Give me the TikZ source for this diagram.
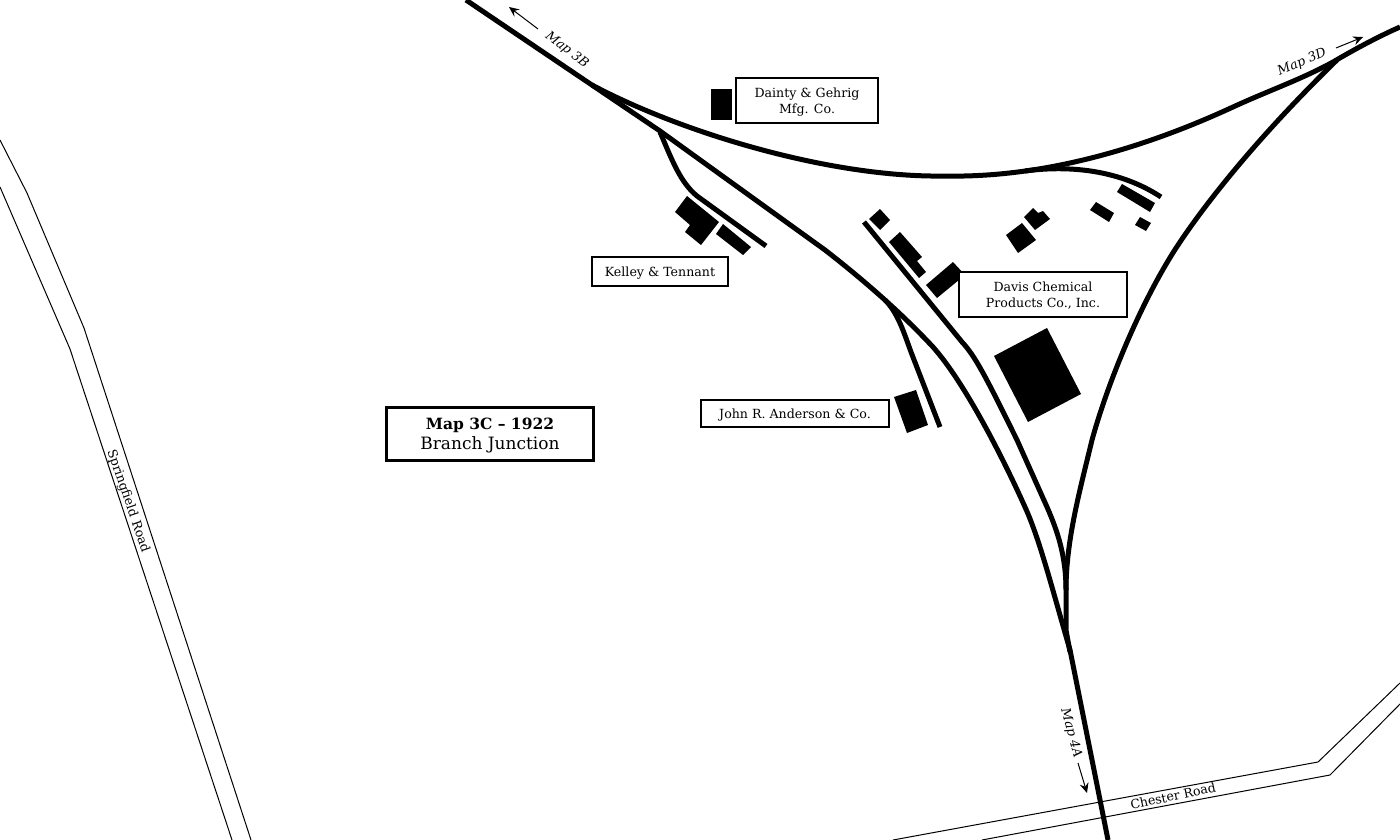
\documentclass[tikz,border=0pt]{standalone}
\usepackage{fontspec}
\setmainfont{DejaVu Serif}
\usetikzlibrary{arrows.meta}
\tikzset{
    rail/.style={line width=5pt, line join=round},
    road/.style={line width=1pt, line join=miter},
    bldg/.style={fill=black, draw=none},
    namebox/.style={draw, line width=1.8pt, fill=white, align=center, inner sep=0pt, font=\fontsize{12.6}{16}\selectfont, text depth=-1pt},
    maplabel/.style={font=\fontsize{12.8}{14}\selectfont\itshape},
    roadlabel/.style={font=\fontsize{12.6}{14}\selectfont},
    mapdir/.style={-{Stealth[length=10pt,width=9pt,inset=3.5pt]}, line width=1pt}
}
\begin{document}
\begin{tikzpicture}[x=1pt, y=-1pt]
    \useasboundingbox (0,0) rectangle (1400,840);
    \fill[white] (0,0) rectangle (1400,840);
    % roads
    \draw[road] (0,140) -- (27,193) -- (84,328) -- (251,840);
    \draw[road] (0,187) -- (70,349) -- (232,840);
    \draw[road] (893,840) -- (1318,762) -- (1400,683);
    \draw[road] (982,840) -- (1330,775) -- (1400,704);
    \node[roadlabel, rotate=-71] at (128,501) {Springfield Road};
    \node[roadlabel, rotate=12] at (1173,796) {Chester Road};
    % main line
    \draw[rail] (466,0) -- (660,131) -- (825,250) .. controls (870,285) and (905,317) .. (933,347)
        .. controls (965,383) and (1003,458) .. (1025,507) .. controls (1040,540) and (1053,592) .. (1070,650) -- (1108,840);
    % top curve
    \draw[rail] (592,85) .. controls (680,132) and (830,178) .. (945,176) .. controls (1040,178) and (1140,150) .. (1233,107)
        .. controls (1270,90) and (1300,80) .. (1333,62) .. controls (1350,52) and (1375,38) .. (1400,27);
    % 3D branch
    \draw[rail] (1337,60) .. controls (1270,125) and (1215,190) .. (1180,242) .. controls (1145,294) and (1110,375) .. (1092,440)
        .. controls (1080,490) and (1066,540) .. (1066,590) -- (1066,630) -- (1070,652);
    % sidings
    \draw[rail] (864,222) -- (962,342) .. controls (975,356) and (985,375) .. (1017,440) -- (1047,507)
        .. controls (1057,530) and (1066,555) .. (1066,590);
    \draw[rail] (660,132) .. controls (672,160) and (680,182) .. (697,196) -- (766,246);
    \draw[rail] (885,300) .. controls (898,313) and (904,333) .. (911,352) -- (940,427);
    \draw[rail] (1025,171) .. controls (1070,165) and (1120,170) .. (1161,197);
    % buildings
    \fill[bldg] (711,89) rectangle (732,120);
    \fill[bldg] (687,196) -- (719,222) -- (701,245) -- (685,232) -- (690,225) -- (675,212) -- cycle;
    \fill[bldg] (723,224) -- (751,247) -- (743,255) -- (716,234) -- cycle;
    \fill[bldg] (880,209) -- (890,220) -- (880,230) -- (869,219) -- cycle;
    \fill[bldg] (900,232) -- (922,257) -- (917,261) -- (926,272) -- (919,278) -- (889,242) -- cycle;
    \fill[bldg] (953,262) -- (965,275) -- (937,298) -- (926,285) -- cycle;
    \fill[bldg] (1047,328) -- (1081,394) -- (1028,422) -- (994,356) -- cycle;
    \fill[bldg] (1033,208) -- (1038,213) -- (1043,211) -- (1050,219) -- (1035,230) -- (1024,217) -- cycle;
    \fill[bldg] (1022,223) -- (1036,240) -- (1018,253) -- (1006,235) -- cycle;
    \fill[bldg] (1096,202) -- (1114,213) -- (1109,222) -- (1090,210) -- cycle;
    \fill[bldg] (1122,184) -- (1155,203) -- (1150,212) -- (1117,192) -- cycle;
    \fill[bldg] (1140,217) -- (1151,223) -- (1146,231) -- (1135,225) -- cycle;
    \fill[bldg] (916,390) -- (928,425) -- (907,433) -- (894,397) -- cycle;
    % names
    \node[namebox, minimum width=142pt, minimum height=45pt] (dainty) at (807,100.5) {Dainty \& Gehrig\\Mfg. Co.};
    \node[namebox, minimum width=136pt, minimum height=29pt] (kelley) at (660,271.5) {Kelley \& Tennant};
    \node[namebox, minimum width=168pt, minimum height=45pt] (davis) at (1043,294.5) {Davis Chemical\\Products Co., Inc.};
    \node[namebox, minimum width=188pt, minimum height=27pt] (anderson) at (795,413.5) {John R. Anderson \& Co.};
    \node[draw, line width=3pt, fill=white, align=center, inner sep=0pt, minimum width=207pt, minimum height=53pt, font=\fontsize{15.5}{20}\selectfont, text depth=-1pt] (title) at (490,434) {\textbf{Map 3C – 1922}\\{\fontsize{17}{20}\selectfont Branch Junction}};
    % map references
    \node[maplabel, rotate=-38] (mapb) at (567,50) {Map 3B};
    \node[maplabel, rotate=23] (mapd) at (1302,62) {Map 3D};
    \node[maplabel, rotate=-75] (mapa) at (1071,733) {Map 4A};
    \coordinate (bfrom) at (538,29);
    \coordinate (bto) at (509,7);
    \coordinate (dfrom) at (1336,48);
    \coordinate (dto) at (1363,37);
    \coordinate (afrom) at (1078,763);
    \coordinate (ato) at (1087,793);
    \draw[mapdir] (bfrom) -- (bto);
    \draw[mapdir] (dfrom) -- (dto);
    \draw[mapdir] (afrom) -- (ato);
\end{tikzpicture}
\end{document}
